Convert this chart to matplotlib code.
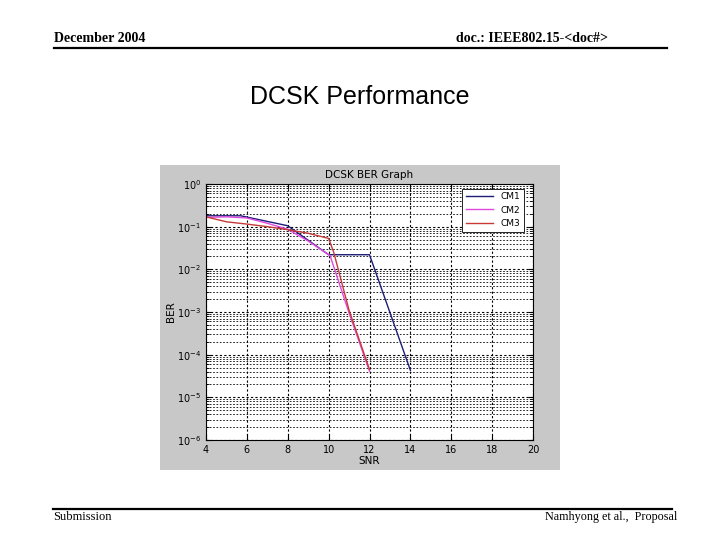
import matplotlib
matplotlib.use("Agg")
import matplotlib.pyplot as plt
from matplotlib.patches import Rectangle
from matplotlib.lines import Line2D
from matplotlib.ticker import LogLocator

# values (SNR in dB, BER)
snr_cm1 = [4, 5.7, 8, 10, 12, 14]
ber_cm1 = [0.18, 0.18, 0.105, 0.022, 0.022, 4.3e-5]

snr_cm2 = [4, 5, 6, 7, 8, 9, 10.07, 11, 12]
ber_cm2 = [0.165, 0.17, 0.16, 0.12, 0.087, 0.046, 0.021, 9.5e-4, 4.1e-5]

snr_cm3 = [4, 5, 6, 7, 8, 9, 10, 10.25, 11, 12]
ber_cm3 = [0.17, 0.13, 0.115, 0.1, 0.085, 0.07, 0.053, 0.025, 1.1e-3, 4.5e-5]

series_labels = ["CM1", "CM2", "CM3"]
series_colors = ["#1c1c78", "#e048e0", "#c83838"]
x_ticks = [4, 6, 8, 10, 12, 14, 16, 18, 20]

fig = plt.figure(figsize=(7.2, 5.4), dpi=100)
fig.patch.set_facecolor("white")

# slide header / footer
serif = ["Liberation Serif", "DejaVu Serif"]
fig.text(54 / 720, 1 - 39 / 540, "December 2004", family=serif, weight="bold",
         fontsize=10, ha="left", va="center")
fig.text(608 / 720, 1 - 38 / 540, "doc.: IEEE802.15-<doc#>", family=serif,
         weight="bold", fontsize=10, ha="right", va="center")
fig.add_artist(Line2D([54 / 720, 667 / 720], [1 - 48 / 540, 1 - 48 / 540],
                      color="black", lw=1.6, transform=fig.transFigure))
fig.add_artist(Line2D([53 / 720, 672 / 720], [1 - 509 / 540, 1 - 509 / 540],
                      color="black", lw=1.6, transform=fig.transFigure))
fig.text(53 / 720, 1 - 517 / 540, "Submission", family=serif, fontsize=9,
         ha="left", va="center")
fig.text(677 / 720, 1 - 517 / 540, "Namhyong et al.,  Proposal", family=serif,
         fontsize=8.7, ha="right", va="center")
fig.text(360 / 720, 1 - 97 / 540, "DCSK Performance",
         family=["Liberation Sans", "DejaVu Sans"], fontsize=18,
         ha="center", va="center")

# grey matlab figure panel
fig.add_artist(Rectangle((160 / 720, 1 - 470 / 540), 400 / 720, 305 / 540,
                         transform=fig.transFigure, facecolor="#c8c8c8",
                         edgecolor="none", zorder=0))

ax = fig.add_axes([206 / 720, 1 - 440 / 540, 327 / 720, 256 / 540])
ax.set_facecolor("white")

ax.semilogy(snr_cm1, ber_cm1, color=series_colors[0], lw=1.0, label=series_labels[0])
ax.semilogy(snr_cm2, ber_cm2, color=series_colors[1], lw=1.0, label=series_labels[1])
ax.semilogy(snr_cm3, ber_cm3, color=series_colors[2], lw=1.0, label=series_labels[2])

ax.set_xlim(4, 20)
ax.set_ylim(1e-6, 1)
ax.set_xticks(x_ticks)
ax.yaxis.set_major_locator(LogLocator(base=10, numticks=10))
ax.yaxis.set_minor_locator(LogLocator(base=10, subs=range(2, 10), numticks=100))
ax.grid(True, which="major", color="black", linestyle=(0, (2, 2)), lw=0.8)
ax.grid(True, which="minor", axis="y", color="black", linestyle=(0, (2, 2)), lw=0.6)
ax.tick_params(which="both", direction="in", labelsize=7, color="black",
               top=True, right=True)
ax.tick_params(which="minor", length=2)
for s in ax.spines.values():
    s.set_linewidth(0.8)

ax.set_xlabel("SNR", fontsize=7.5, labelpad=1)
ax.set_ylabel("BER", fontsize=7.5, labelpad=1)
ax.set_title("DCSK BER Graph", fontsize=7.5, pad=4)

leg = ax.legend(loc="upper right", fontsize=6.5, frameon=True, fancybox=False,
                edgecolor="black", framealpha=1, handlelength=3.0,
                borderaxespad=0.5, bbox_to_anchor=(0.985, 1.0))
leg.get_frame().set_linewidth(0.6)

fig.savefig("out.png", dpi=100)
